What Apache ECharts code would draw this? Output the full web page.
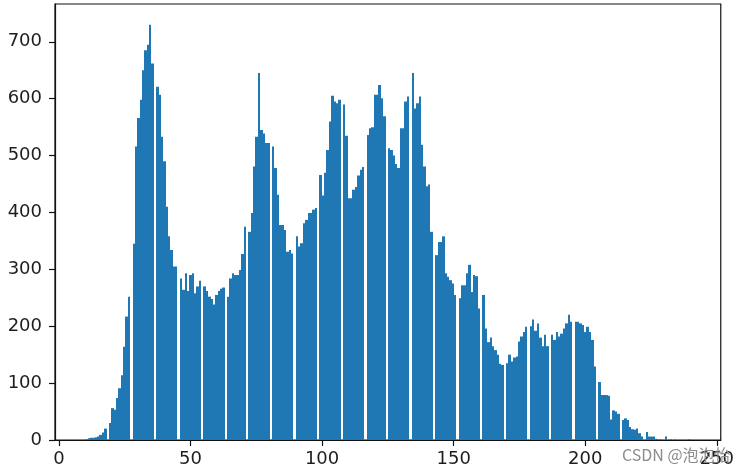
<!DOCTYPE html>
<html>
<head>
<meta charset="utf-8">
<script src="https://cdn.jsdelivr.net/npm/echarts@6/dist/echarts.min.js"></script>
<style>
html,body{margin:0;padding:0;background:#fff;}
#chart{width:737px;height:474px;}
</style>
</head>
<body>
<div id="chart"></div>
<script>
// Grey levels present in the image (histogram of img.ravel() with 256 bins)
const minLevel = 10;
const maxLevel = 240;
const binCount = 256;

// Pixel counts per grey level
const counts10to49 = [1,3,4,4,5,6,9,13,20,30, 56,53,74,91,114,164,217,252,345,516,
  566,598,650,685,695,730,662,621,607,533, 490,410,358,334,305,305,284,264,293,262];
const counts50to89 = [290,293,258,270,280,270,262,252,248,238, 255,262,266,268,252,284,293,290,290,299,
  327,375,366,399,481,533,645,545,539,522, 522,516,478,431,378,378,369,331,334,328];
const counts90to129 = [358,340,346,381,387,399,399,405,408,466, 430,470,510,560,605,595,592,598,590,535,
  425,425,440,445,465,475,480,536,548,550, 607,607,624,601,569,513,510,500,485,478];
const counts130to169 = [548,548,595,604,645,583,592,604,519,481, 446,449,366,325,348,348,358,293,287,281,
  275,255,249,272,272,293,308,260,290,288, 231,255,196,172,180,165,158,150,134,132];
const counts170to209 = [135,150,138,145,147,173,182,190,199,200, 212,192,205,180,165,185,165,185,176,190,
  182,187,196,205,220,208,208,208,205,202, 190,199,190,176,129,102,79,79,79,78];
const counts210to240 = [36,52,50,46,35,38,35,23,19,18, 20,12,6,14,6,6,6,2,1,1,
  0,6,1,0,1,0,0,0,0,0, 1];

const xTicks = [0, 50, 100, 150, 200, 250];
const yTicks = [0, 100, 200, 300, 400, 500, 600, 700];

const levelCounts = [].concat(counts10to49, counts50to89, counts90to129,
  counts130to169, counts170to209, counts210to240);

// histogram binning (same rule as matplotlib: 256 equal bins over [min, max])
const span = maxLevel - minLevel;
const binW = span / binCount;
const binTotals = new Array(binCount).fill(0);
levelCounts.forEach(function (c, i) {
  const level = minLevel + i;
  let b = Math.floor((level - minLevel) / binW + 1e-9);
  if (b >= binCount) b = binCount - 1;
  binTotals[b] += c;
});
const bars = [];
for (let b = 0; b < binCount; b++) {
  if (binTotals[b] > 0) {
    bars.push([minLevel + b * binW, minLevel + (b + 1) * binW, binTotals[b]]);
  }
}
const xMin = minLevel - 0.05 * span;
const xMax = maxLevel + 0.05 * span;
const yMax = Math.max.apply(null, binTotals) * 1.05;

const chart = echarts.init(document.getElementById('chart'), null, {renderer: 'canvas'});
const axisFont = {fontSize: 18, fontFamily: 'DejaVu Sans', color: '#1e1e1e'};
chart.setOption({
  animation: false,
  backgroundColor: '#ffffff',
  grid: {left: 55, right: 12, top: 4, bottom: 34, show: true,
    borderColor: '#111', borderWidth: 1.2, backgroundColor: 'transparent'},
  xAxis: {
    type: 'value', min: xMin, max: xMax,
    axisLine: {show: true, onZero: false, lineStyle: {color: '#111', width: 1.2}},
    axisTick: {show: true, inside: false, length: 6, customValues: xTicks,
      lineStyle: {color: '#111', width: 1.2}},
    axisLabel: Object.assign({customValues: xTicks, margin: 10}, axisFont),
    splitLine: {show: false}
  },
  yAxis: {
    type: 'value', min: 0, max: yMax,
    axisLine: {show: true, onZero: false, lineStyle: {color: '#111', width: 1.2}},
    axisTick: {show: true, inside: false, length: 6, customValues: yTicks,
      lineStyle: {color: '#111', width: 1.2}},
    axisLabel: Object.assign({customValues: yTicks, margin: 13}, axisFont),
    splitLine: {show: false}
  },
  series: [{
    type: 'custom',
    clip: true,
    encode: {x: [0, 1], y: 2},
    data: bars,
    renderItem: function (params, api) {
      const p0 = api.coord([api.value(0), 0]);
      const p1 = api.coord([api.value(1), api.value(2)]);
      const xa = Math.round(p0[0]);
      const xb = Math.round(p1[0]);
      return {
        type: 'rect',
        shape: {x: xa, y: p1[1], width: xb - xa, height: p0[1] - p1[1]},
        style: {fill: '#1f77b4'}
      };
    }
  }],
  graphic: [{
    type: 'text', left: 622, top: 447, z: 100,
    style: {text: 'CSDN @泡泡怡', fill: '#8c8c8c',
      font: '16px "Noto Sans CJK SC", "Noto Sans", sans-serif'}
  }]
});
</script>
</body>
</html>
